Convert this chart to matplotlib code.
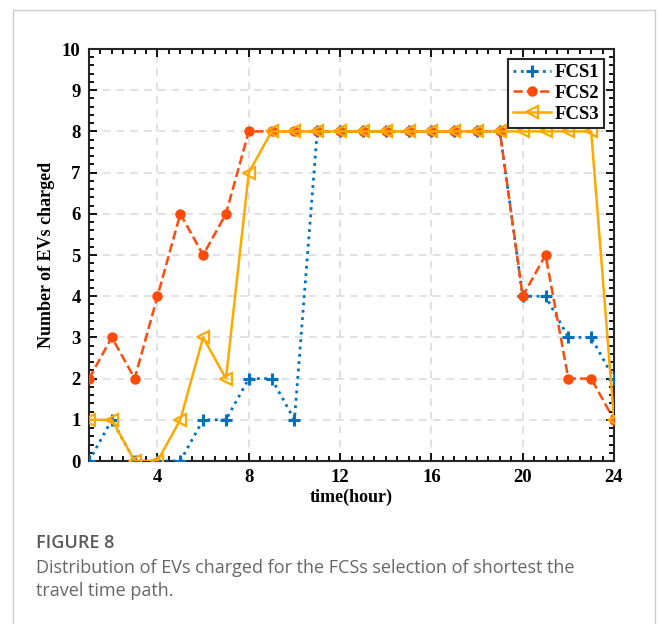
import matplotlib.pyplot as plt
from matplotlib.patches import Rectangle
from matplotlib.ticker import MultipleLocator

hours = list(range(1, 25))
fcs1 = [0, 1, 0, 0, 0, 1, 1, 2, 2, 1, 8, 8, 8, 8, 8, 8, 8, 8, 8, 4, 4, 3, 3, 2]
fcs2 = [2, 3, 2, 4, 6, 5, 6, 8, 8, 8, 8, 8, 8, 8, 8, 8, 8, 8, 8, 4, 5, 2, 2, 1]
fcs3 = [1, 1, 0, 0, 1, 3, 2, 7, 8, 8, 8, 8, 8, 8, 8, 8, 8, 8, 8, 8, 8, 8, 8, 1]

blue = '#0072BD'
red = '#FF4A0A'
gold = '#FFA900'

plt.rcParams['font.family'] = 'Liberation Serif'
plt.rcParams['font.weight'] = 'bold'

fig = plt.figure(figsize=(6.58, 6.24), dpi=100)
ax = fig.add_axes([89/658, 1-461/624, 525/658, 412/624])

ax.plot(hours, fcs1, ':', color=blue, lw=2, marker='+', ms=8, mew=2.2, label='FCS1', zorder=3)
ax.plot(hours, fcs2, '--', color=red, lw=1.8, marker='o', ms=6.5, mfc=red, mec=red, label='FCS2', zorder=4)
ax.plot(hours, fcs3, '-', color=gold, lw=1.8, marker='<', ms=9, mfc='none', mec=gold, mew=1.6, label='FCS3', zorder=5)

ax.set_xlim(1, 24)
ax.set_ylim(0, 10)
ax.set_xticks([4, 8, 12, 16, 20, 24])
ax.set_yticks(range(0, 11))
ax.xaxis.set_minor_locator(MultipleLocator(0.5))
ax.yaxis.set_minor_locator(MultipleLocator(0.2))
ax.tick_params(which='both', direction='in', top=True, right=True, width=1.3)
ax.tick_params(which='major', length=6, labelsize=13.5, pad=6)
ax.tick_params(which='minor', length=3.5)
for s in ax.spines.values():
    s.set_linewidth(1.5)
    s.set_color('#262626')
ax.grid(True, which='major', ls=(0, (5, 4)), color='#d9d9d9', lw=1.1)
ax.set_axisbelow(True)

ax.set_xlabel('time(hour)', fontsize=13, fontweight='bold', labelpad=2)
ax.set_ylabel('Number of EVs charged', fontsize=13, fontweight='bold', labelpad=5)

leg = ax.legend(loc='upper right', fontsize=13.5, fancybox=False, framealpha=1,
                edgecolor='#262626', borderpad=0.25, labelspacing=0.2,
                handlelength=2.0, handletextpad=0.2, borderaxespad=0.55)
leg.get_frame().set_linewidth(1.5)

# card border and caption
fig.patches.append(Rectangle((13/658, -0.05), (655-13)/658, 1.05 - 10/624,
                             transform=fig.transFigure, fill=False,
                             edgecolor='#cccccc', lw=1))
fig.text(36/658, 1-543/624, 'FIGURE 8', family='Open Sans', fontsize=13,
         fontweight='semibold', color='#595959', va='center')
fig.text(36/658, 1-568/624, 'Distribution of EVs charged for the FCSs selection of shortest the',
         family='Open Sans', fontsize=13, fontweight='normal', color='#666666', va='center')
fig.text(36/658, 1-591/624, 'travel time path.',
         family='Open Sans', fontsize=13, fontweight='normal', color='#666666', va='center')

fig.savefig('out.png', dpi=100)
